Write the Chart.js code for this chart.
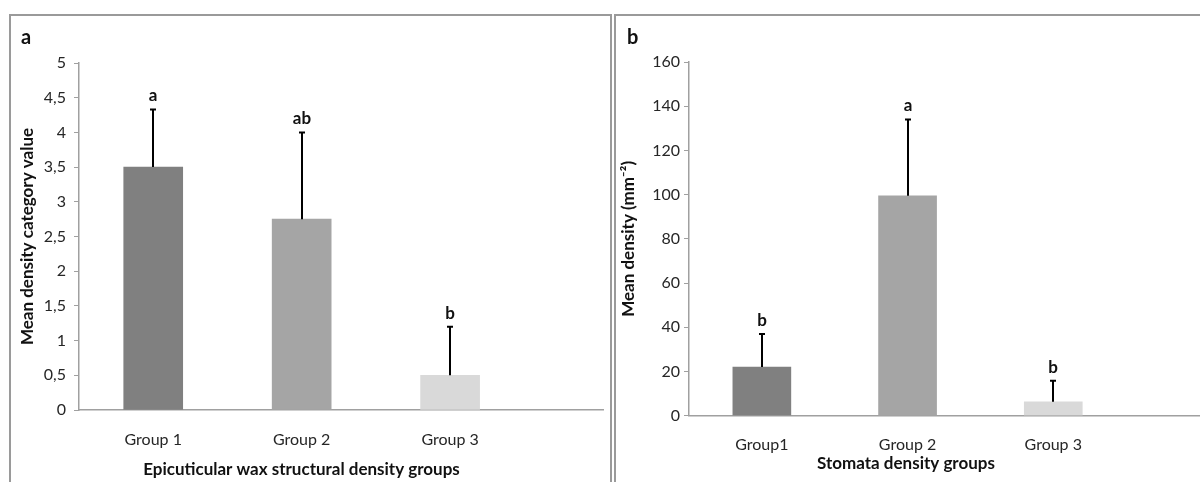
<!DOCTYPE html>
<html>
<head>
<meta charset="utf-8">
<script src="https://cdn.jsdelivr.net/npm/chart.js@4.4.1/dist/chart.umd.min.js"></script>
<style>
  html, body { margin: 0; padding: 0; background: #fff; width: 1200px; height: 482px; overflow: hidden; }
  .frame { position: absolute; border: 2px solid #9a9a9a; border-bottom: none; box-sizing: border-box; }
  #frameA { left: 9px; top: 14px; width: 603px; height: 480px; }
  #frameB { left: 614px; top: 14px; width: 600px; height: 480px; border-right: none; }
  #wrapA { position: absolute; left: 0; top: 0; width: 612px; height: 482px; }
  #wrapB { position: absolute; left: 612px; top: 0; width: 588px; height: 482px; }
</style>
</head>
<body>
<div class="frame" id="frameA"></div>
<div class="frame" id="frameB"></div>
<div id="wrapA"><canvas id="chartA"></canvas></div>
<div id="wrapB"><canvas id="chartB"></canvas></div>
<script>
// Panel a: epicuticular wax structural density
const waxGroups = ['Group 1', 'Group 2', 'Group 3'];
const waxMeans = [3.5, 2.75, 0.5];
const waxSD = [0.83, 1.25, 0.7];
const waxLetters = ['a', 'ab', 'b'];

// Panel b: stomata density
const stomataGroups = ['Group1', 'Group 2', 'Group 3'];
const stomataMeans = [22, 99.5, 6.3];
const stomataSD = [15, 34.5, 9.5];
const stomataLetters = ['b', 'a', 'b'];

const barColors = ['#808080', '#a5a5a5', '#d9d9d9'];

const FONT = 'Lato, "Open Sans", sans-serif';
const AXIS_GREY = '#a0a0a0';
const TEXT = '#262626';

// Upper error bars plus significance letters above each bar
const errorBarPlugin = {
  id: 'errorBars',
  afterDatasetsDraw(chart, args, opts) {
    const { ctx, scales: { x, y } } = chart;
    ctx.save();
    opts.means.forEach((m, i) => {
      const px = Math.round(x.getPixelForValue(i + 1));
      const yBase = y.getPixelForValue(m);
      const yTop = y.getPixelForValue(m + opts.sd[i]);
      ctx.strokeStyle = '#000';
      ctx.lineWidth = 2;
      ctx.beginPath();
      ctx.moveTo(px, yBase);
      ctx.lineTo(px, yTop);
      ctx.moveTo(px - 3, yTop);
      ctx.lineTo(px + 3, yTop);
      ctx.stroke();
      ctx.fillStyle = '#111';
      ctx.font = 'bold 17px ' + FONT;
      ctx.textAlign = 'center';
      ctx.textBaseline = 'alphabetic';
      ctx.fillText(opts.letters[i], px, yTop - 8);
    });
    ctx.restore();
  }
};

// Panel letter in the top-left corner
const panelLabelPlugin = {
  id: 'panelLabel',
  afterDraw(chart, args, opts) {
    const { ctx } = chart;
    ctx.save();
    ctx.fillStyle = '#111';
    ctx.font = 'bold 20px ' + FONT;
    ctx.textAlign = 'left';
    ctx.textBaseline = 'middle';
    ctx.fillText(opts.text, opts.x, opts.y);
    ctx.restore();
  }
};

function makeChart(id, cfg) {
  const points = cfg.means.map((v, i) => ({ x: i + 1, y: v }));
  return new Chart(document.getElementById(id), {
    type: 'bar',
    data: {
      datasets: [{
        data: points,
        backgroundColor: barColors,
        borderWidth: 0,
        barThickness: cfg.barWidth
      }]
    },
    plugins: [errorBarPlugin, panelLabelPlugin],
    options: {
      responsive: true,
      maintainAspectRatio: false,
      animation: false,
      layout: { padding: { left: 0, top: cfg.top, right: cfg.right, bottom: 0 } },
      plugins: {
        legend: { display: false },
        tooltip: { enabled: false },
        title: {
          display: true,
          position: 'bottom',
          text: cfg.xTitle,
          color: '#111',
          font: { family: FONT, size: 17, weight: 'bold', lineHeight: 1.2 },
          padding: { top: 0, bottom: cfg.xTitlePad }
        },
        errorBars: { means: cfg.means, sd: cfg.sd, letters: cfg.letters },
        panelLabel: { text: cfg.panel, x: cfg.panelX, y: 38 }
      },
      scales: {
        x: {
          type: 'linear',
          offset: false,
          min: 0.5,
          max: cfg.xMax,
          afterBuildTicks: (s) => { s.ticks = cfg.groups.map((g, i) => ({ value: i + 1 })); },
          afterFit: (s) => { s.height = cfg.xHeight; },
          grid: { display: false, drawTicks: false },
          border: { display: true, color: AXIS_GREY, width: 1.5 },
          ticks: {
            autoSkip: false,
            maxRotation: 0,
            padding: 20,
            color: TEXT,
            font: { family: FONT, size: 16 },
            callback: (v) => cfg.groups[v - 1]
          }
        },
        y: {
          min: 0,
          max: cfg.yMax,
          afterFit: (s) => { s.width = cfg.yWidth; },
          grid: { drawOnChartArea: false, drawTicks: true, tickLength: 5, color: AXIS_GREY },
          border: { display: true, color: AXIS_GREY, width: 1.5 },
          ticks: {
            stepSize: cfg.yStep,
            padding: cfg.yTickPad,
            color: TEXT,
            font: { family: FONT, size: 16 },
            callback: (v) => String(v).replace('.', ',')
          },
          title: {
            display: true,
            text: cfg.yTitle,
            color: '#111',
            font: { family: FONT, size: 17, weight: 'bold' },
            padding: { top: cfg.yTitlePad, bottom: 0 }
          }
        }
      }
    }
  });
}

makeChart('chartA', {
  groups: waxGroups, means: waxMeans, sd: waxSD, letters: waxLetters,
  barWidth: 59, top: 63, right: 9, xMax: 4.03, xHeight: 49.6, xTitlePad: 2,
  yMax: 5, yStep: 0.5, yWidth: 79, yTickPad: 8, yTitlePad: 17,
  xTitle: 'Epicuticular wax structural density groups',
  yTitle: 'Mean density category value',
  panel: 'a', panelX: 21
});

makeChart('chartB', {
  groups: stomataGroups, means: stomataMeans, sd: stomataSD, letters: stomataLetters,
  barWidth: 58, top: 62, right: 0, xMax: 4.007, xHeight: 38.1, xTitlePad: 7.8,
  yMax: 160, yStep: 20, yWidth: 77, yTickPad: 4, yTitlePad: 6,
  xTitle: 'Stomata density groups',
  yTitle: 'Mean density (mm\u207B\u00B2)',
  panel: 'b', panelX: 15
});
</script>
</body>
</html>
